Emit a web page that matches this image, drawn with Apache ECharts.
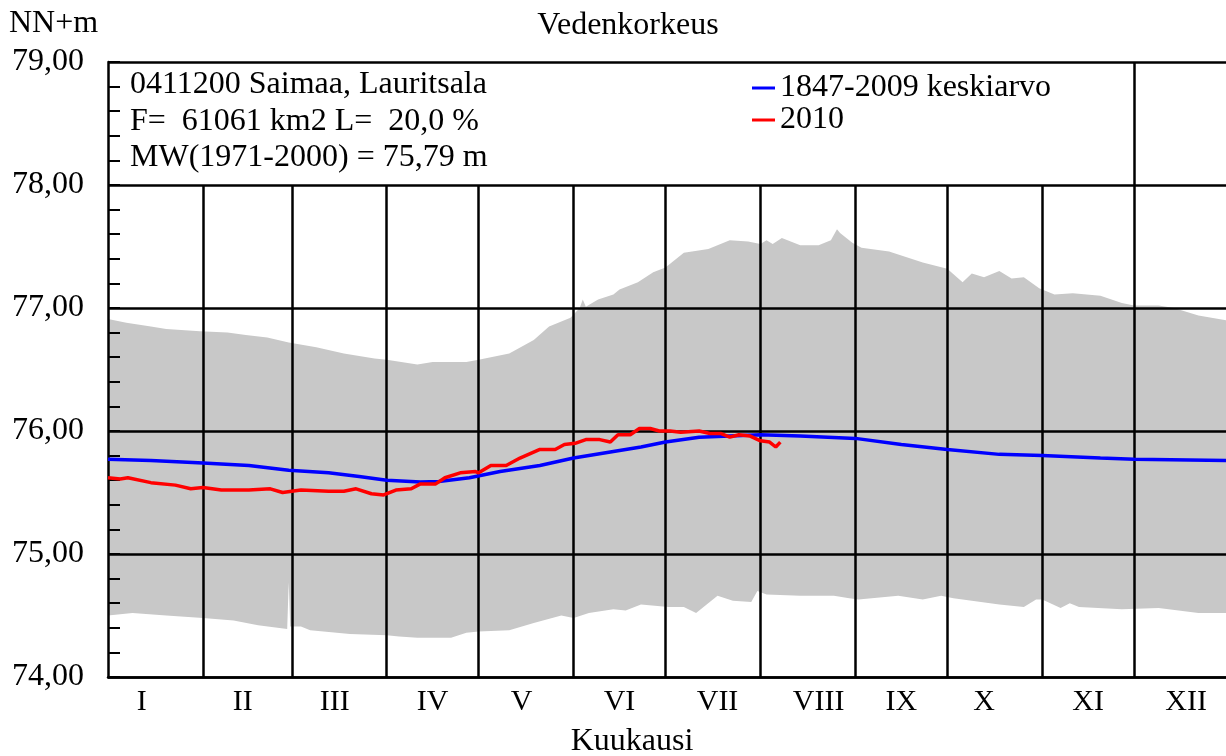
<!DOCTYPE html>
<html>
<head>
<meta charset="utf-8">
<script src="https://cdn.jsdelivr.net/npm/echarts@6/dist/echarts.min.js"></script>
<style>
  html, body { margin: 0; padding: 0; background: #fff; }
  #main { width: 1226px; height: 756px; }
</style>
</head>
<body>
<div id="main"></div>
<script>
// x axis is day of year (leap year, 2010 chart drawn on 366-day grid)
const monthEnds = [31, 60, 91, 121, 152, 182, 213, 244, 274, 305, 335];
const monthLabels = ["I", "II", "III", "IV", "V", "VI", "VII", "VIII", "IX", "X", "XI", "XII"];
const monthLabelDays = [11, 44, 74, 106, 135, 167, 199, 232, 259, 286, 320, 352];

// highest level 1847-2009 (upper edge of grey band)
const upperLevel = [
  [0, 76.91], [6, 76.88], [14, 76.85], [19, 76.83], [30, 76.81], [39, 76.80], [45, 76.78],
  [52, 76.76], [59, 76.72], [68, 76.68], [77, 76.63], [87, 76.59], [91, 76.58], [101, 76.54],
  [106, 76.56], [117, 76.56], [121, 76.58], [131, 76.63], [139, 76.74], [144, 76.85],
  [151, 76.92], [154, 77.0], [155, 77.07], [156, 77.01], [160, 77.07], [165, 77.11],
  [167, 77.15], [173, 77.21], [178, 77.29], [182, 77.33], [188, 77.45], [196, 77.48],
  [203, 77.55], [209, 77.54], [213, 77.52], [215, 77.55], [217, 77.52], [220, 77.57],
  [226, 77.51], [232, 77.51], [236, 77.55], [238, 77.64], [239, 77.61], [243, 77.53],
  [246, 77.49], [255, 77.46], [261, 77.41], [266, 77.37], [274, 77.32], [279, 77.21],
  [282, 77.28], [286, 77.25], [291, 77.3], [295, 77.24], [299, 77.25], [304, 77.16],
  [309, 77.11], [315, 77.12], [324, 77.1], [331, 77.04], [335, 77.02], [343, 77.02],
  [348, 77.0], [356, 76.94], [365, 76.9]
];

// lowest level 1847-2009 (lower edge of grey band)
const lowerLevel = [
  [0, 74.5], [8, 74.52], [19, 74.5], [31, 74.48], [41, 74.46], [49, 74.42], [58.5, 74.39],
  [59, 74.77], [59.5, 74.41], [63, 74.41], [66, 74.38], [79, 74.35], [91, 74.34], [95, 74.33],
  [101, 74.32], [112, 74.32], [117, 74.36], [121, 74.37], [131, 74.38], [139, 74.44],
  [148, 74.5], [152, 74.48], [157, 74.52], [165, 74.55], [169, 74.54], [174, 74.59],
  [183, 74.57], [188, 74.57], [192, 74.52], [199, 74.66], [204, 74.62], [210, 74.61],
  [212, 74.7], [215, 74.67], [226, 74.66], [237, 74.66], [242, 74.64], [245, 74.63],
  [258, 74.66], [266, 74.63], [272, 74.66], [276, 74.64], [291, 74.59], [299, 74.57],
  [303, 74.63], [305, 74.63], [311, 74.56], [314, 74.6], [317, 74.57], [331, 74.55],
  [343, 74.56], [356, 74.52], [365, 74.52]
];

// 1847-2009 keskiarvo
const meanLevel = [
  [0, 75.77], [14, 75.76], [31, 75.74], [46, 75.72], [59, 75.68], [72, 75.66], [82, 75.63],
  [91, 75.6], [102, 75.585], [108, 75.59], [118, 75.62], [128, 75.67], [141, 75.72],
  [152, 75.78], [164, 75.83], [174, 75.87], [182, 75.91], [193, 75.95], [203, 75.96],
  [213, 75.97], [226, 75.96], [244, 75.94], [259, 75.89], [274, 75.85], [291, 75.81],
  [305, 75.8], [324, 75.78], [335, 75.77], [365, 75.76]
];

// 2010
const level2010 = [
  [0, 75.62], [4, 75.61], [6.5, 75.62], [14, 75.58], [22, 75.56], [27, 75.53], [31, 75.54],
  [37, 75.52], [46, 75.52], [53, 75.53], [57, 75.5], [63, 75.52], [72, 75.51], [77, 75.51],
  [81, 75.53], [86, 75.49], [90, 75.48], [94, 75.52], [99, 75.53], [102, 75.57], [107, 75.57],
  [110, 75.62], [115, 75.66], [120, 75.67], [121, 75.66], [125, 75.72], [130, 75.72],
  [134.5, 75.78], [141, 75.85], [146, 75.85], [149, 75.89], [152.5, 75.9], [156, 75.93],
  [160.5, 75.93], [164, 75.91], [166.5, 75.97], [170.5, 75.97], [173.5, 76.02], [177, 76.02],
  [180, 76.0], [183.5, 76.0], [187, 75.99], [193, 76.0], [196.5, 75.98], [200, 75.98],
  [203, 75.95], [206, 75.97], [209.5, 75.96], [213, 75.92], [216, 75.91], [218, 75.87],
  [219.5, 75.91]
];

const FONT = '"Liberation Serif", "Times New Roman", serif';
const chart = echarts.init(document.getElementById("main"));

// month separators: only the November line runs up through the info band
const monthLines = monthEnds.map((d) => [
  { coord: [d, 74] },
  { coord: [d, d === 335 ? 79 : 78] },
]);

const text = (str, x, y, align) => ({
  type: "text",
  x: x,
  y: y,
  silent: true,
  style: {
    text: str,
    font: "32px " + FONT,
    fill: "#000",
    align: align || "left",
    verticalAlign: "middle",
    textAlign: align || "left",
    textVerticalAlign: "middle",
  },
});

const option = {
  animation: false,
  backgroundColor: "#fff",
  grid: { left: 108, right: 0, top: 62, bottom: 79 },
  legend: {
    data: ["1847-2009 keskiarvo", "2010"],
    orient: "vertical",
    left: 752,
    top: 72,
    padding: 0,
    itemGap: 0,
    itemWidth: 23,
    itemHeight: 3,
    icon: "rect",
    selectedMode: false,
    textStyle: { fontFamily: FONT, fontSize: 32, color: "#000", lineHeight: 31 },
  },
  graphic: [
    text("Vedenkorkeus", 628, 26, "center"),
    text("NN+m", 9, 24),
    text("0411200 Saimaa, Lauritsala", 130, 85),
    text("F=  61061 km2 L=  20,0 %", 130, 122),
    text("MW(1971-2000) = 75,79 m", 130, 158),
    text("Kuukausi", 632, 742, "center"),
  ],
  xAxis: {
    type: "value",
    min: 0,
    max: 365,
    z: 3,
    axisLine: { show: true, lineStyle: { color: "#000", width: 2.5 } },
    axisTick: { show: false },
    splitLine: { show: false },
    axisLabel: {
      customValues: monthLabelDays,
      formatter: (v) => monthLabels[monthLabelDays.indexOf(v)],
      fontFamily: FONT,
      fontSize: 30,
      color: "#000",
      margin: 10,
    },
  },
  yAxis: {
    type: "value",
    min: 74,
    max: 79,
    interval: 1,
    z: 3,
    axisLine: { show: true, lineStyle: { color: "#000", width: 2.5 } },
    axisTick: { show: true, inside: true, length: 12, lineStyle: { color: "#000", width: 2 } },
    minorTick: { show: true, splitNumber: 5, length: 12, lineStyle: { color: "#000", width: 2 } },
    splitLine: { show: true, lineStyle: { color: "#000", width: 2.5 } },
    axisLabel: {
      formatter: (v) => v.toFixed(2).replace(".", ","),
      fontFamily: FONT,
      fontSize: 32,
      color: "#000",
      margin: 24,
    },
  },
  series: [
    {
      name: "max",
      type: "line",
      data: upperLevel,
      z: 1,
      showSymbol: false,
      silent: true,
      lineStyle: { width: 0 },
      areaStyle: { color: "#c8c8c8", opacity: 1, origin: "start" },
      markLine: {
        silent: true,
        symbol: ["none", "none"],
        z: 3,
        label: { show: false },
        lineStyle: { color: "#000", width: 2.5, type: "solid" },
        data: monthLines,
      },
    },
    {
      name: "min",
      type: "line",
      data: lowerLevel,
      z: 1.5,
      showSymbol: false,
      silent: true,
      lineStyle: { width: 0 },
      areaStyle: { color: "#fff", opacity: 1, origin: "start" },
    },
    {
      name: "1847-2009 keskiarvo",
      type: "line",
      data: meanLevel,
      z: 5,
      color: "#0000ff",
      showSymbol: false,
      lineStyle: { color: "#0000ff", width: 3.5 },
    },
    {
      name: "2010",
      type: "line",
      data: level2010,
      z: 6,
      color: "#ff0000",
      showSymbol: false,
      lineStyle: { color: "#ff0000", width: 3.5 },
    },
  ],
};

chart.setOption(option);
</script>
</body>
</html>
